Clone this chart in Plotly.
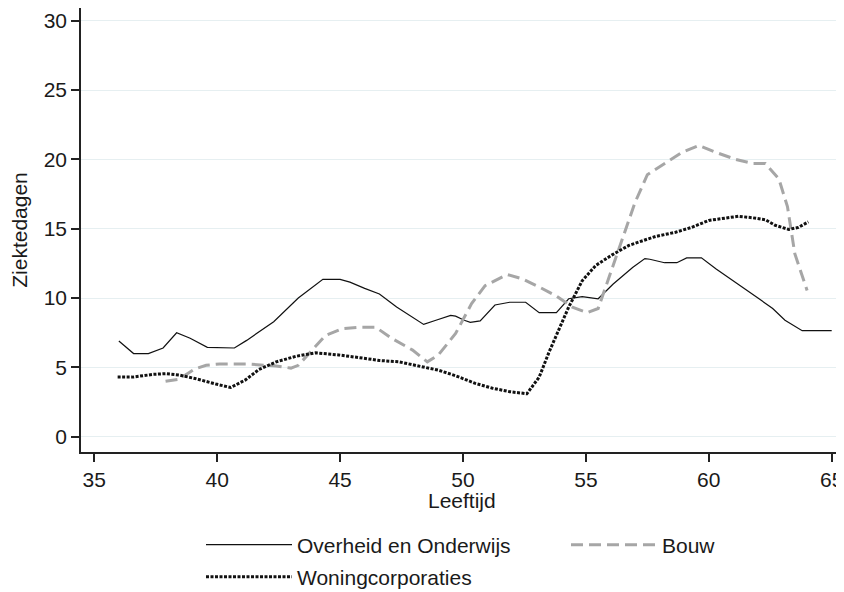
import plotly.graph_objects as go

# Overheid en Onderwijs
ov_x = [36.0, 36.6, 37.2, 37.8, 38.35, 38.9, 39.6, 40.7, 41.2, 42.3, 43.3, 44.3, 45.0, 45.4,
        46.0, 46.6, 47.3, 47.95, 48.4, 48.9, 49.5, 49.7, 50.05, 50.3, 50.7, 51.3, 51.9, 52.55,
        53.1, 53.8, 54.3, 54.85, 55.5, 56.1, 56.9, 57.4, 57.6, 58.2, 58.7, 59.1, 59.7, 60.3,
        60.8, 61.5, 62.0, 62.6, 63.1, 63.8, 65.0]
ov_y = [6.9, 6.0, 6.0, 6.4, 7.5, 7.1, 6.45, 6.4, 6.95, 8.3, 10.0, 11.35, 11.35, 11.15,
        10.7, 10.3, 9.35, 8.6, 8.1, 8.4, 8.75, 8.7, 8.4, 8.25, 8.35, 9.5, 9.7, 9.7,
        8.95, 8.95, 9.95, 10.1, 9.95, 11.0, 12.2, 12.85, 12.8, 12.55, 12.55, 12.9, 12.9, 12.1,
        11.5, 10.6, 10.0, 9.25, 8.4, 7.65, 7.65]

# Bouw
bo_x = [37.9, 38.45, 39.1, 39.55, 40.1, 41.2, 42.4, 43.0, 43.3, 43.9, 44.4, 45.1, 45.8, 46.45,
        47.1, 47.95, 48.55, 49.0, 49.7, 50.35, 50.9, 51.8, 52.4, 53.1, 53.8, 54.45, 55.05, 55.5,
        55.95, 56.5, 57.0, 57.5, 58.2, 58.9, 59.6, 60.3, 61.1, 61.8, 62.3, 62.85, 63.2, 63.5, 64.0]
bo_y = [4.0, 4.15, 4.9, 5.15, 5.25, 5.25, 5.1, 4.95, 5.15, 6.35, 7.3, 7.8, 7.9, 7.9,
        7.1, 6.25, 5.4, 5.9, 7.45, 9.6, 10.9, 11.7, 11.4, 10.8, 10.15, 9.35, 8.95, 9.25,
        11.5, 14.4, 16.9, 18.9, 19.7, 20.5, 21.0, 20.5, 20.0, 19.7, 19.7, 18.6, 16.6, 13.2, 10.55]

# Woningcorporaties
wo_x = [35.95, 36.55, 37.4, 37.9, 38.45, 39.1, 39.95, 40.55, 41.15, 41.7, 42.4, 43.2, 44.0, 44.95,
        45.8, 46.6, 47.4, 48.2, 49.0, 49.7, 50.5, 51.2, 51.9, 52.6, 53.1, 53.5, 53.9, 54.3,
        54.85, 55.4, 56.05, 56.75, 57.5, 57.85, 58.65, 59.3, 60.0, 60.7, 61.2, 61.75, 62.3, 62.7,
        63.25, 63.65, 64.05]
wo_y = [4.3, 4.3, 4.5, 4.55, 4.45, 4.2, 3.8, 3.55, 4.1, 4.85, 5.4, 5.8, 6.05, 5.9,
        5.7, 5.5, 5.4, 5.1, 4.8, 4.4, 3.85, 3.5, 3.25, 3.1, 4.3, 6.1, 7.7, 9.35,
        11.25, 12.35, 13.1, 13.8, 14.25, 14.45, 14.75, 15.1, 15.6, 15.8, 15.9, 15.8, 15.65, 15.25,
        14.95, 15.1, 15.5]

x_ticks = [35, 40, 45, 50, 55, 60, 65]
y_ticks = [0, 5, 10, 15, 20, 25, 30]

FONT = "Liberation Sans, Arial, sans-serif"
TXT = "#1a1a1a"

# page is rendered with an 8px body margin; figure sized to fill the rest
W, H = 836, 584

fig = go.Figure()
fig.add_trace(go.Scatter(x=ov_x, y=ov_y, mode="lines", name="Overheid en Onderwijs",
                         line=dict(color="#111111", width=1.2), legend="legend"))
fig.add_trace(go.Scatter(x=bo_x, y=bo_y, mode="lines", name="Bouw",
                         line=dict(color="#a6a6a6", width=3, dash="12px,6px"), legend="legend2"))
fig.add_trace(go.Scatter(x=wo_x, y=wo_y, mode="lines", name="Woningcorporaties",
                         line=dict(color="#111111", width=3, dash="3px,1.5px"), legend="legend3"))

leg_common = dict(orientation="h", xref="container", yref="container",
                  xanchor="left", yanchor="middle", bgcolor="rgba(0,0,0,0)",
                  itemwidth=86,
                  font=dict(family=FONT, size=21, color=TXT))

fig.update_layout(
    width=W, height=H,
    paper_bgcolor="white", plot_bgcolor="white",
    margin=dict(l=73, r=1, t=0, b=140, autoexpand=False),
    font=dict(family=FONT, size=21, color=TXT),
    showlegend=True,
    legend=dict(x=193 / W, y=1 - 537 / H, **leg_common),
    legend2=dict(x=558 / W, y=1 - 537 / H, **leg_common),
    legend3=dict(x=193 / W, y=1 - 569 / H, **leg_common),
    xaxis=dict(range=[34.46, 65.46], tickvals=x_ticks, ticktext=[str(v) for v in x_ticks],
               showgrid=False, zeroline=False, showline=True, linecolor="#222222", linewidth=1.5,
               ticks="outside", ticklen=8, tickwidth=1.5, tickcolor="#222222",
               tickfont=dict(family=FONT, size=21, color=TXT)),
    yaxis=dict(range=[-1.10, 30.92], tickvals=y_ticks, ticktext=[str(v) for v in y_ticks],
               showgrid=True, gridcolor="#e6eff1", gridwidth=1, zeroline=False,
               showline=True, linecolor="#222222", linewidth=1.5,
               ticks="outside", ticklen=8, tickwidth=1.5, tickcolor="#222222",
               tickfont=dict(family=FONT, size=21, color=TXT),
               title=dict(text="Ziektedagen", font=dict(family=FONT, size=21, color=TXT), standoff=12)),
    annotations=[dict(text="Leeftijd", xref="paper", yref="paper", x=0.5, y=-(500 - 452) / 444,
                      xanchor="center", yanchor="middle", showarrow=False,
                      font=dict(family=FONT, size=21, color=TXT))],
)

fig.write_html("out.html")
